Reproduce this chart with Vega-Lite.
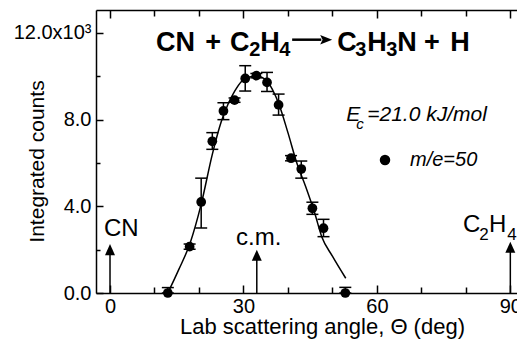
{
  "$schema": "https://vega.github.io/schema/vega-lite/v6.json",
  "width": 421,
  "height": 283,
  "autosize": {"type": "none"},
  "padding": {"left": 96, "top": 10, "right": 0, "bottom": 50},
  "background": "white",
  "config": {
    "view": {"stroke": null},
    "font": "Liberation Sans",
    "axis": {
      "grid": false,
      "domainColor": "black",
      "domainWidth": 1.5,
      "tickColor": "black",
      "tickWidth": 1.5,
      "labelColor": "black",
      "titleColor": "black",
      "labelFont": "Liberation Sans",
      "titleFont": "Liberation Sans",
      "labelFontSize": 20,
      "titleFontSize": 21,
      "titleFontWeight": "normal"
    }
  },
  "datasets": {
    "points": [
      {"x": 13.0, "y": 0, "lo": 0, "hi": 250, "series": "m/e=50"},
      {"x": 17.9, "y": 2140, "lo": 2020, "hi": 2260, "series": "m/e=50"},
      {"x": 20.5, "y": 4200, "lo": 3000, "hi": 5300, "series": "m/e=50"},
      {"x": 23.0, "y": 7000, "lo": 6630, "hi": 7400, "series": "m/e=50"},
      {"x": 25.5, "y": 8400, "lo": 8000, "hi": 8780, "series": "m/e=50"},
      {"x": 28.0, "y": 8900, "lo": 8800, "hi": 9000, "series": "m/e=50"},
      {"x": 30.4, "y": 9900, "lo": 9320, "hi": 10490, "series": "m/e=50"},
      {"x": 32.9, "y": 10030, "lo": 9930, "hi": 10130, "series": "m/e=50"},
      {"x": 35.3, "y": 9720, "lo": 9300, "hi": 10180, "series": "m/e=50"},
      {"x": 37.9, "y": 8680, "lo": 8210, "hi": 9180, "series": "m/e=50"},
      {"x": 40.7, "y": 6220, "lo": 6100, "hi": 6340, "series": "m/e=50"},
      {"x": 43.0, "y": 5720, "lo": 5300, "hi": 6090, "series": "m/e=50"},
      {"x": 45.5, "y": 3910, "lo": 3630, "hi": 4190, "series": "m/e=50"},
      {"x": 48.0, "y": 2990, "lo": 2600, "hi": 3400, "series": "m/e=50"},
      {"x": 52.9, "y": 0, "lo": 0, "hi": 260, "series": "m/e=50"}
    ],
    "curve": [
      {"x": 13, "y": 0},
      {"x": 15.5, "y": 1100},
      {"x": 18, "y": 2300},
      {"x": 20.5, "y": 4100},
      {"x": 23, "y": 6400},
      {"x": 25, "y": 7900},
      {"x": 26.5, "y": 8700},
      {"x": 28, "y": 9300},
      {"x": 29.5, "y": 9750},
      {"x": 31, "y": 9950},
      {"x": 33, "y": 10000},
      {"x": 35, "y": 9850},
      {"x": 36.5, "y": 9400},
      {"x": 38, "y": 8700},
      {"x": 40, "y": 7400},
      {"x": 42, "y": 6000},
      {"x": 44, "y": 4900},
      {"x": 46, "y": 3700},
      {"x": 47.6, "y": 2600},
      {"x": 50, "y": 1700},
      {"x": 53, "y": 680}
    ],
    "arrows": [
      {"x": 0, "base": 0, "tip": 2000},
      {"x": 33.0, "base": 0, "tip": 1740},
      {"x": 90, "base": 0, "tip": 2110}
    ],
    "labels": [
      {"x": -1.35, "y": 2640, "label": "CN"},
      {"x": 28.35, "y": 2200, "label": "c.m."},
      {"x": 79.36, "y": 2830, "label": "C"},
      {"x": 85.2, "y": 2830, "label": "H"}
    ],
    "labelSubs": [
      {"x": 83.0, "y": 2460, "label": "2"},
      {"x": 89.3, "y": 2460, "label": "4"}
    ],
    "titleMain": [
      {"x": 10.35, "y": 11150, "label": "CN"},
      {"x": 21.4, "y": 11150, "label": "+"},
      {"x": 27.0, "y": 11150, "label": "C"},
      {"x": 33.75, "y": 11150, "label": "H"},
      {"x": 51.08, "y": 11150, "label": "C"},
      {"x": 57.83, "y": 11150, "label": "H"},
      {"x": 64.58, "y": 11150, "label": "N"},
      {"x": 70.6, "y": 11150, "label": "+"},
      {"x": 76.5, "y": 11150, "label": "H"}
    ],
    "titleSubs": [
      {"x": 31.28, "y": 10960, "label": "2"},
      {"x": 38.03, "y": 10960, "label": "4"},
      {"x": 55.13, "y": 10960, "label": "3"},
      {"x": 62.1, "y": 10960, "label": "3"}
    ],
    "reactionArrow": [
      {"x": 40.95, "x2": 47.5, "y": 11690, "head": 48.6}
    ]
  },
  "resolve": {"axis": {"x": "independent"}},
  "layer": [
    {
      "data": {"name": "curve"},
      "mark": {"type": "line", "color": "black", "strokeWidth": 1.5, "interpolate": "monotone"},
      "encoding": {
        "x": {
          "field": "x", "type": "quantitative",
          "scale": {"domain": [-3.15, 91.5], "nice": false, "zero": false},
          "axis": {
            "orient": "bottom",
            "title": "Lab scattering angle, Θ (deg)",
            "values": [0, 10, 20, 30, 40, 50, 60, 70, 80, 90],
            "labelExpr": "datum.value % 30 === 0 ? datum.label : ''",
            "tickSize": {"condition": {"test": "datum.value % 30 === 0", "value": -8}, "value": -6},
            "labelPadding": 11,
            "labelFlush": false,
            "labelOverlap": false,
            "titleFontSize": 22,
            "titleAlign": "center",
            "titleBaseline": "alphabetic",
            "titleX": 226,
            "titleY": 40
          }
        },
        "y": {
          "field": "y", "type": "quantitative",
          "scale": {"domain": [0, 13060], "nice": false, "zero": false},
          "axis": {
            "orient": "left",
            "title": "Integrated counts",
            "values": [0, 2000, 4000, 6000, 8000, 10000, 12000],
            "labelExpr": "datum.value === 12000 ? '12.0x10³' : (datum.value % 4000 === 0 ? format(datum.value / 1000, '.1f') : '')",
            "tickSize": {"condition": {"test": "datum.value % 4000 === 0", "value": -7}, "value": -4},
            "labelPadding": 12,
            "labelFlush": false,
            "labelOverlap": false,
            "titleAngle": 270,
            "titleAlign": "center",
            "titleBaseline": "alphabetic",
            "titleX": -53,
            "titleY": 151
          }
        }
      }
    },
    {
      "data": {"name": "points"},
      "mark": {"type": "rule", "color": "black", "strokeWidth": 1.5},
      "encoding": {
        "x": {"field": "x", "type": "quantitative", "scale": {"domain": [-3.15, 91.5], "nice": false, "zero": false}, "axis": null},
        "y": {"field": "lo", "type": "quantitative", "scale": {"domain": [0, 13060], "nice": false, "zero": false}},
        "y2": {"field": "hi"}
      }
    },
    {
      "data": {"name": "points"},
      "mark": {"type": "point", "shape": "stroke", "size": 144, "color": "black", "strokeWidth": 1.5, "opacity": 1},
      "encoding": {
        "x": {"field": "x", "type": "quantitative", "scale": {"domain": [-3.15, 91.5], "nice": false, "zero": false}, "axis": null},
        "y": {"field": "lo", "type": "quantitative", "scale": {"domain": [0, 13060], "nice": false, "zero": false}}
      }
    },
    {
      "data": {"name": "points"},
      "mark": {"type": "point", "shape": "stroke", "size": 144, "color": "black", "strokeWidth": 1.5, "opacity": 1},
      "encoding": {
        "x": {"field": "x", "type": "quantitative", "scale": {"domain": [-3.15, 91.5], "nice": false, "zero": false}, "axis": null},
        "y": {"field": "hi", "type": "quantitative", "scale": {"domain": [0, 13060], "nice": false, "zero": false}}
      }
    },
    {
      "data": {"name": "points"},
      "mark": {"type": "point", "filled": true, "color": "black", "size": 95, "opacity": 1},
      "encoding": {
        "x": {
          "field": "x", "type": "quantitative",
          "scale": {"domain": [-3.15, 91.5], "nice": false, "zero": false},
          "axis": {
            "orient": "top",
            "title": null,
            "labels": false,
            "values": [0, 10, 20, 30, 40, 50, 60, 70, 80, 90],
            "tickSize": {"condition": {"test": "datum.value % 30 === 0", "value": -8}, "value": -6}
          }
        },
        "y": {"field": "y", "type": "quantitative", "scale": {"domain": [0, 13060], "nice": false, "zero": false}},
        "shape": {
          "field": "series", "type": "nominal",
          "scale": {"range": ["circle"]},
          "legend": {
            "title": null,
            "orient": "none",
            "legendX": 279,
            "legendY": 140,
            "padding": 0,
            "labelFont": "Liberation Sans",
            "labelFontSize": 20,
            "labelFontStyle": "italic",
            "labelColor": "black",
            "labelOffset": 15,
            "symbolType": "circle",
            "symbolSize": 110,
            "symbolFillColor": "black",
            "symbolStrokeColor": "black",
            "symbolOpacity": 1
          }
        }
      }
    },
    {
      "data": {"name": "arrows"},
      "mark": {"type": "rule", "color": "black", "strokeWidth": 1.5},
      "encoding": {
        "x": {"field": "x", "type": "quantitative", "scale": {"domain": [-3.15, 91.5], "nice": false, "zero": false}, "axis": null},
        "y": {"field": "base", "type": "quantitative", "scale": {"domain": [0, 13060], "nice": false, "zero": false}},
        "y2": {"field": "tip"}
      }
    },
    {
      "data": {"name": "arrows"},
      "mark": {"type": "point", "shape": "M0,-1L-0.9,1L0.9,1Z", "size": 123, "filled": true, "color": "black", "opacity": 1},
      "encoding": {
        "x": {"field": "x", "type": "quantitative", "scale": {"domain": [-3.15, 91.5], "nice": false, "zero": false}, "axis": null},
        "y": {"field": "tip", "type": "quantitative", "scale": {"domain": [0, 13060], "nice": false, "zero": false}}
      }
    },
    {
      "data": {"name": "labels"},
      "mark": {"type": "text", "font": "Liberation Sans", "fontSize": 24, "align": "left", "baseline": "alphabetic", "color": "black"},
      "encoding": {
        "x": {"field": "x", "type": "quantitative", "scale": {"domain": [-3.15, 91.5], "nice": false, "zero": false}, "axis": null},
        "y": {"field": "y", "type": "quantitative", "scale": {"domain": [0, 13060], "nice": false, "zero": false}},
        "text": {"field": "label"}
      }
    },
    {
      "data": {"name": "labelSubs"},
      "mark": {"type": "text", "font": "Liberation Sans", "fontSize": 17, "align": "left", "baseline": "alphabetic", "color": "black"},
      "encoding": {
        "x": {"field": "x", "type": "quantitative", "scale": {"domain": [-3.15, 91.5], "nice": false, "zero": false}, "axis": null},
        "y": {"field": "y", "type": "quantitative", "scale": {"domain": [0, 13060], "nice": false, "zero": false}},
        "text": {"field": "label"}
      }
    },
    {
      "data": {"name": "titleMain"},
      "mark": {"type": "text", "font": "Liberation Sans", "fontSize": 27, "fontWeight": "bold", "align": "left", "baseline": "alphabetic", "color": "black"},
      "encoding": {
        "x": {"field": "x", "type": "quantitative", "scale": {"domain": [-3.15, 91.5], "nice": false, "zero": false}, "axis": null},
        "y": {"field": "y", "type": "quantitative", "scale": {"domain": [0, 13060], "nice": false, "zero": false}},
        "text": {"field": "label"}
      }
    },
    {
      "data": {"name": "titleSubs"},
      "mark": {"type": "text", "font": "Liberation Sans", "fontSize": 20, "fontWeight": "bold", "align": "left", "baseline": "alphabetic", "color": "black"},
      "encoding": {
        "x": {"field": "x", "type": "quantitative", "scale": {"domain": [-3.15, 91.5], "nice": false, "zero": false}, "axis": null},
        "y": {"field": "y", "type": "quantitative", "scale": {"domain": [0, 13060], "nice": false, "zero": false}},
        "text": {"field": "label"}
      }
    },
    {
      "data": {"name": "reactionArrow"},
      "mark": {"type": "rule", "color": "black", "strokeWidth": 2.5},
      "encoding": {
        "x": {"field": "x", "type": "quantitative", "scale": {"domain": [-3.15, 91.5], "nice": false, "zero": false}, "axis": null},
        "x2": {"field": "x2"},
        "y": {"field": "y", "type": "quantitative", "scale": {"domain": [0, 13060], "nice": false, "zero": false}}
      }
    },
    {
      "data": {"name": "reactionArrow"},
      "mark": {"type": "point", "shape": "M1,0L-1,-0.8L-0.6,0L-1,0.8Z", "size": 144, "filled": true, "color": "black", "opacity": 1},
      "encoding": {
        "x": {"field": "head", "type": "quantitative", "scale": {"domain": [-3.15, 91.5], "nice": false, "zero": false}, "axis": null},
        "y": {"field": "y", "type": "quantitative", "scale": {"domain": [0, 13060], "nice": false, "zero": false}}
      }
    },
    {
      "data": {"values": [{"x": 53.1, "y": 7920, "label": "E"}]},
      "mark": {"type": "text", "font": "Liberation Sans", "fontSize": 21, "fontStyle": "italic", "align": "left", "baseline": "alphabetic", "color": "black"},
      "encoding": {
        "x": {"field": "x", "type": "quantitative", "scale": {"domain": [-3.15, 91.5], "nice": false, "zero": false}, "axis": null},
        "y": {"field": "y", "type": "quantitative", "scale": {"domain": [0, 13060], "nice": false, "zero": false}},
        "text": {"field": "label"}
      }
    },
    {
      "data": {"values": [{"x": 53.1, "y": 7920, "label": "c"}]},
      "mark": {"type": "text", "font": "Liberation Sans", "fontSize": 15, "fontStyle": "italic", "align": "left", "baseline": "alphabetic", "color": "black", "dx": 10, "dy": 8},
      "encoding": {
        "x": {"field": "x", "type": "quantitative", "scale": {"domain": [-3.15, 91.5], "nice": false, "zero": false}, "axis": null},
        "y": {"field": "y", "type": "quantitative", "scale": {"domain": [0, 13060], "nice": false, "zero": false}},
        "text": {"field": "label"}
      }
    },
    {
      "data": {"values": [{"x": 53.1, "y": 7920, "label": "=21.0 kJ/mol"}]},
      "mark": {"type": "text", "font": "Liberation Sans", "fontSize": 21, "fontStyle": "italic", "align": "left", "baseline": "alphabetic", "color": "black", "dx": 21},
      "encoding": {
        "x": {"field": "x", "type": "quantitative", "scale": {"domain": [-3.15, 91.5], "nice": false, "zero": false}, "axis": null},
        "y": {"field": "y", "type": "quantitative", "scale": {"domain": [0, 13060], "nice": false, "zero": false}},
        "text": {"field": "label"}
      }
    }
  ]
}
